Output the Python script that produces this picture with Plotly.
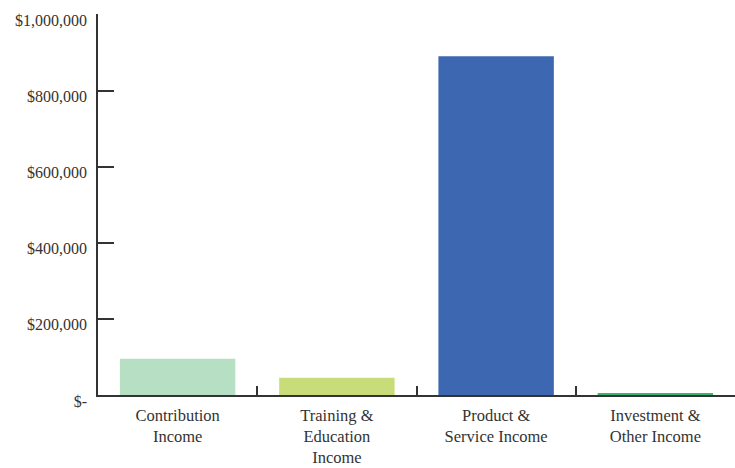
import plotly.graph_objects as go

categories = ["Contribution<br>Income", "Training &<br>Education<br>Income",
              "Product &<br>Service Income", "Investment &<br>Other Income"]
values = [95000, 45000, 890000, 5000]
colors = ["#b7dfc4", "#c9dc7a", "#3d67b1", "#3bb56c"]
tick_vals = [0, 200000, 400000, 600000, 800000, 1000000]
tick_text = ["$-", "$200,000", "$400,000", "$600,000", "$800,000", "$1,000,000"]

fig = go.Figure(go.Bar(x=categories, y=values, marker=dict(color=colors, line=dict(width=0)),
                       hoverinfo="x+y"))

font = "Liberation Serif, Times New Roman, serif"
fig.update_layout(
    width=735, height=468,
    margin=dict(l=98, r=0, t=14, b=73),
    paper_bgcolor="white", plot_bgcolor="white",
    bargap=0.275,
    showlegend=False,
    font=dict(family=font, color="#333333"),
)
fig.update_xaxes(
    automargin=False,
    showline=True, linecolor="#333333", linewidth=1.5,
    ticks="inside", tickson="boundaries", ticklen=9, tickcolor="#333333", tickwidth=1.5,
    tickfont=dict(family=font, size=16.5, color="#333333"),
    ticklabelstandoff=4,
    showgrid=False, zeroline=False,
)
fig.update_yaxes(
    automargin=False,
    range=[0, 1001000],
    tickvals=tick_vals, ticktext=tick_text,
    showline=True, linecolor="#333333", linewidth=1.5,
    ticks="inside", ticklen=16, tickcolor="#333333", tickwidth=1.5,
    tickfont=dict(family=font, size=16, color="#333333"),
    ticklabelshift=6, ticklabelstandoff=6,
    showgrid=False, zeroline=False,
)
fig.write_html("out.html", config={"displayModeBar": False})

with open("out.html", encoding="utf-8") as f:
    html = f.read()
html = html.replace("<body>", '<body style="margin:0;padding:0;">', 1)
with open("out.html", "w", encoding="utf-8") as f:
    f.write(html)
